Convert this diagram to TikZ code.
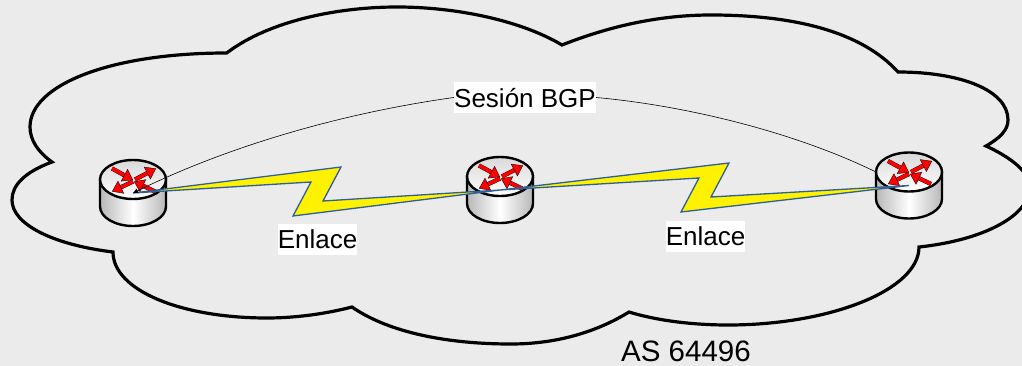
\documentclass[tikz,border=0pt]{standalone}
\usepackage{fontspec}
\setmainfont{Liberation Sans}
\usetikzlibrary{arrows.meta}
\definecolor{fondo}{HTML}{EBEBEB}
\definecolor{azul}{HTML}{2F5F97}
\newcommand{\flecha}[2]{\draw[line width=.35pt,double=red,double distance=3.6pt,-{Triangle[fill=red,length=10pt,width=14pt]}] #1 -- #2;}
\begin{document}
\begin{tikzpicture}[x=1pt,y=-1pt,
 nube/.style={line width=3.2pt,line join=miter},
 enlace/.style={draw=azul,fill=yellow,line width=1.3pt,line join=miter},
 sesion/.style={line width=.6pt},
 etiq/.style={fill=white,inner sep=0pt,text depth=0pt,font=\fontsize{26}{30}\selectfont}]
\useasboundingbox[fill=fondo] (0,0) rectangle (1022,366);
\draw[nube] (226.7,53) .. controls (270,20) and (340,7) .. (397,7)
 .. controls (455,7) and (520,20) .. (562,45)
 .. controls (620,22) and (670,15) .. (711,15)
 .. controls (790,15) and (860,30) .. (898,72)
 .. controls (960,72) and (1008,90) .. (1008,120)
 .. controls (1008,130) and (1000,138) .. (986,146)
 .. controls (1010,157) and (1030,172) .. (1030,187)
 .. controls (1030,215) and (985,240) .. (919,247)
 .. controls (919,290) and (830,325) .. (728,325)
 .. controls (690,325) and (655,320) .. (629,312)
 .. controls (600,330) and (560,344) .. (511,344)
 .. controls (440,344) and (385,330) .. (352,307)
 .. controls (325,314) and (295,318) .. (267,318)
 .. controls (180,318) and (113,290) .. (113,252)
 .. controls (55,245) and (12,225) .. (12,200)
 .. controls (12,185) and (25,172) .. (52,162)
 .. controls (38,152) and (30,140) .. (30,127)
 .. controls (30,85) and (110,53) .. (226.7,53) -- cycle;
\node[etiq,minimum width=142pt,minimum height=31pt] (sesionbgp) at (525,97.5) {Sesión BGP};
\node[etiq,minimum width=79pt,minimum height=31pt] (enlaceA) at (317.5,239.5) {Enlace};
\node[etiq,minimum width=79pt,minimum height=31pt] (enlaceB) at (705.5,236.5) {Enlace};
\node[inner sep=0pt,font=\fontsize{29.5}{33}\selectfont] (as) at (686,351) {AS 64496};
\coordinate (rderecha) at (876,172);
\draw[sesion] (sesionbgp.east) .. controls (680,105) and (790,130) .. (rderecha);
% routers
\foreach \n/\x/\y in {1/133/179.5,2/500/176.5,3/909/172} {
 \coordinate (r\n) at (\x,\y+13.5);
 \begin{scope}[shift={(\x,\y)}]
 \draw[line width=2.4pt,left color=black!28,right color=black!28,middle color=white] (-33,0) -- (-33,27) arc[start angle=180,end angle=0,x radius=33,y radius=19.5] -- (33,0) -- cycle;
 \draw[line width=2.4pt,top color=black!15,bottom color=white] (0,0) ellipse[x radius=33,y radius=19.5];
 \flecha{(-21,-11)}{(0,0.5)}
 \flecha{(2,0)}{(23,-11)}
 \flecha{(0,2)}{(-21,12)}
 \flecha{(22,12)}{(1,2)}
 \end{scope}
}
\draw[enlace] (r1) -- (341,167) -- (323,201) -- (r2) -- (293,216) -- (311,182) -- cycle;
\draw[enlace] (r2) -- (729,163) -- (711,197) -- (r3) -- (681,212) -- (699,178) -- cycle;
\draw[sesion,-{Latex[length=5pt,width=5pt]}] (sesionbgp.west) .. controls (350,112) and (235,143) .. (r1);
\end{tikzpicture}
\end{document}
